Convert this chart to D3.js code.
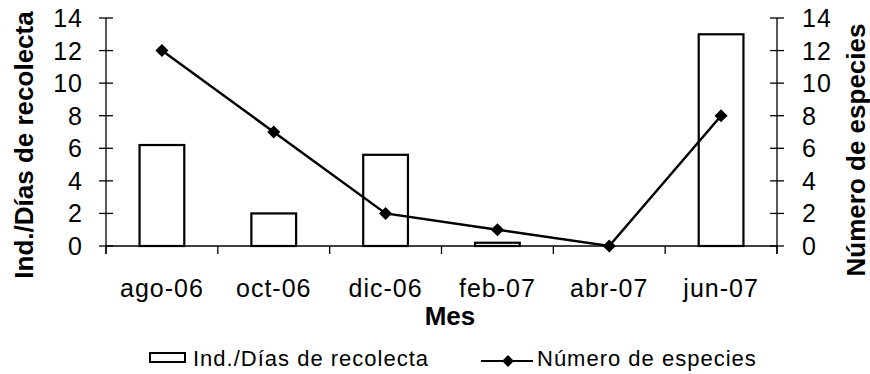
<!DOCTYPE html>
<html>
<head>
<meta charset="utf-8">
<script src="https://cdn.jsdelivr.net/npm/d3@7"></script>
<style>
  body { margin: 0; background: #fff; }
  svg { font-family: "Liberation Sans", Arial, sans-serif; }
</style>
</head>
<body>
<svg id="chart" width="870" height="374"></svg>
<script>
const months = ["ago-06", "oct-06", "dic-06", "feb-07", "abr-07", "jun-07"];
const indPerDay = [6.2, 2.0, 5.6, 0.2, 0, 13.0];   // bars, left axis
const numSpecies = [12, 7, 2, 1, 0, 8];           // line, right axis
const yTicks = [0, 2, 4, 6, 8, 10, 12, 14];

const svg = d3.select("#chart");
const plotL = 106, plotR = 777, plotT = 18, plotB = 246;

const x = d3.scaleBand().domain(months).range([plotL, plotR]);
const yL = d3.scaleLinear().domain([0, 14]).range([plotB, plotT]);
const yR = d3.scaleLinear().domain([0, 14]).range([plotB, plotT]);

// bars
svg.selectAll(".bar")
  .data(months)
  .enter().append("rect")
  .attr("class", "bar")
  .attr("x", (d) => x(d) + x.bandwidth() * 0.3)
  .attr("width", x.bandwidth() * 0.4)
  .attr("y", (d, i) => yL(indPerDay[i]))
  .attr("height", (d, i) => plotB - yL(indPerDay[i]))
  .attr("fill", "#fff")
  .attr("stroke", "#000")
  .attr("stroke-width", 2.2);

// x axis line and boundary ticks
svg.append("line")
  .attr("x1", plotL).attr("x2", plotR)
  .attr("y1", plotB).attr("y2", plotB)
  .attr("stroke", "#000").attr("stroke-width", 1.3);
svg.selectAll(".xtick")
  .data(d3.range(months.length + 1))
  .enter().append("line")
  .attr("x1", (i) => plotL + i * x.step()).attr("x2", (i) => plotL + i * x.step())
  .attr("y1", plotB).attr("y2", plotB + 8)
  .attr("stroke", "#000").attr("stroke-width", 1.3);
svg.selectAll(".xlab")
  .data(months)
  .enter().append("text")
  .attr("x", (d) => x(d) + x.bandwidth() / 2)
  .attr("y", 297)
  .attr("text-anchor", "middle")
  .attr("font-size", 25)
  .attr("letter-spacing", 1)
  .text((d) => d);

// y axes
function yAxis(xPos, scale, anchor, dx) {
  svg.append("line")
    .attr("x1", xPos).attr("x2", xPos)
    .attr("y1", plotT).attr("y2", plotB + 8)
    .attr("stroke", "#000").attr("stroke-width", 1.3);
  svg.selectAll(null)
    .data(yTicks)
    .enter().append("line")
    .attr("x1", xPos - 7).attr("x2", xPos + 7)
    .attr("y1", (d) => scale(d)).attr("y2", (d) => scale(d))
    .attr("stroke", "#000").attr("stroke-width", 1.3);
  svg.selectAll(null)
    .data(yTicks)
    .enter().append("text")
    .attr("x", xPos + dx)
    .attr("y", (d) => scale(d))
    .attr("dy", "0.36em")
    .attr("text-anchor", anchor)
    .attr("font-size", 25)
    .attr("letter-spacing", 1)
    .text((d) => d);
}
yAxis(plotL, yL, "end", -23);
yAxis(plotR, yR, "start", 25);

// line series
const line = d3.line()
  .x((d, i) => x(months[i]) + x.bandwidth() / 2)
  .y((d) => yR(d));
svg.append("path")
  .datum(numSpecies)
  .attr("d", line)
  .attr("fill", "none")
  .attr("stroke", "#000")
  .attr("stroke-width", 2.5);
svg.selectAll(".pt")
  .data(numSpecies)
  .enter().append("path")
  .attr("d", d3.symbol(d3.symbolSquare, 85))
  .attr("transform", (d, i) => `translate(${x(months[i]) + x.bandwidth() / 2},${yR(d)}) rotate(45)`)
  .attr("fill", "#000");

// titles
svg.append("text")
  .attr("transform", "translate(33,145) rotate(-90)")
  .attr("text-anchor", "middle")
  .attr("font-size", 26).attr("font-weight", "bold")
  .text("Ind./Días de recolecta");
svg.append("text")
  .attr("transform", "translate(865,150) rotate(-90)")
  .attr("text-anchor", "middle")
  .attr("font-size", 26).attr("font-weight", "bold")
  .text("Número de especies");
svg.append("text")
  .attr("x", 450)
  .attr("y", 325)
  .attr("text-anchor", "middle")
  .attr("font-size", 26).attr("font-weight", "bold")
  .text("Mes");

// legend
svg.append("rect")
  .attr("x", 150).attr("y", 353).attr("width", 35).attr("height", 9)
  .attr("fill", "#fff").attr("stroke", "#000").attr("stroke-width", 2);
svg.append("text")
  .attr("x", 193).attr("y", 366)
  .attr("font-size", 22)
  .attr("letter-spacing", 1)
  .text("Ind./Días de recolecta");
svg.append("line")
  .attr("x1", 481).attr("x2", 533).attr("y1", 361).attr("y2", 361)
  .attr("stroke", "#000").attr("stroke-width", 2.2);
svg.append("path")
  .attr("d", d3.symbol(d3.symbolSquare, 70))
  .attr("transform", "translate(508,361) rotate(45)")
  .attr("fill", "#000");
svg.append("text")
  .attr("x", 537).attr("y", 366)
  .attr("font-size", 22)
  .attr("letter-spacing", 1)
  .text("Número de especies");
</script>
</body>
</html>
